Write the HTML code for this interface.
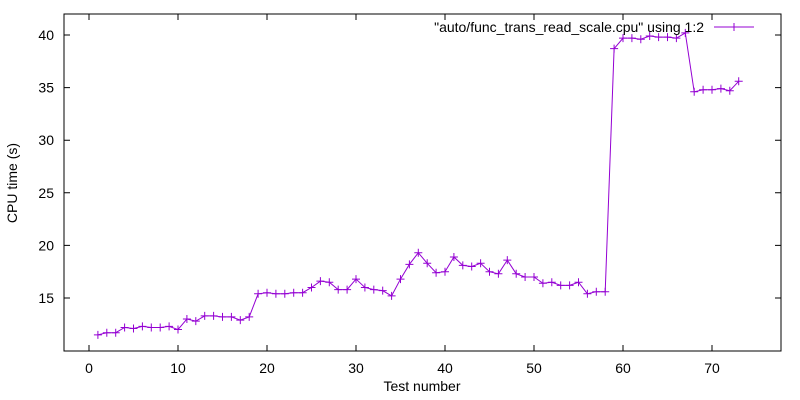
<!DOCTYPE html>
<html><head><meta charset="utf-8"><style>body{margin:0;background:#fff}svg{display:block;font-family:"Liberation Sans",sans-serif}</style></head>
<body>
<svg id="chart" width="800" height="400" viewBox="0 0 800 400"></svg>
<script>
const xTicks=[0,10,20,30,40,50,60,70];
const yTicks=[15,20,25,30,35,40];
const testNumbers=[];for(let i=1;i<=73;i++)testNumbers.push(i);
const cpuTimes=[11.5,11.7,11.7,12.2,12.1,12.3,12.2,12.2,12.3,12.0,13.0,12.8,13.3,13.3,13.2,13.2,12.9,13.2,15.4,15.5,15.4,15.4,15.5,15.5,16.0,16.6,16.5,15.8,15.8,16.8,16.0,15.8,15.7,15.2,16.8,18.2,19.3,18.3,17.4,17.5,18.9,18.1,18.0,18.3,17.5,17.3,18.6,17.3,17.0,17.0,16.4,16.5,16.2,16.2,16.5,15.4,15.6,15.6,38.7,39.7,39.7,39.6,39.9,39.8,39.8,39.7,40.2,34.6,34.8,34.8,34.9,34.7,35.6];
const seriesLabel='"auto/func_trans_read_scale.cpu" using 1:2';
const L=64,R=781,T=14,B=351;
const xs=v=>89+v*8.9;
const ys=v=>350.6-(v-10)*10.52;
const svg=document.getElementById('chart');
const NS='http://www.w3.org/2000/svg';
function mk(t,a,p){const e=document.createElementNS(NS,t);for(const k in a)e.setAttribute(k,a[k]);(p||svg).appendChild(e);return e;}
let e=mk('rect',{x:L,y:T,width:R-L,height:B-T,fill:'none',stroke:'#000','stroke-width':1});


xTicks.forEach(t=>{const x=xs(t);
 let l=mk('path',{d:`M${x} ${B}v-6M${x} ${T}v6`,stroke:'#000'});
 
 
 let tx=mk('text',{x:x,y:373,'text-anchor':'middle','font-size':14});tx.textContent=t;
 
 
});
yTicks.forEach(t=>{const y=ys(t);
 let l=mk('path',{d:`M${L} ${y}h6M${R} ${y}h-6`,stroke:'#000'});
 
 
 let tx=mk('text',{x:54,y:y+5,'text-anchor':'end','font-size':14});tx.textContent=t;
 
 
});
let xt=mk('text',{x:422,y:391,'text-anchor':'middle','font-size':14});xt.textContent='Test number';


let yt=mk('text',{x:17,y:183,'text-anchor':'middle','font-size':14,transform:'rotate(-90 17 183)'});yt.textContent='CPU time (s)';


const col='#9400d3';
let d=testNumbers.map((n,i)=>(i?'L':'M')+xs(n)+' '+ys(cpuTimes[i])).join('');
let ln=mk('path',{d:d,fill:'none',stroke:col,'stroke-width':1});


testNumbers.forEach((n,i)=>{const x=xs(n),y=ys(cpuTimes[i]);
 let p=mk('path',{d:`M${x-4} ${y}h8M${x} ${y-4}v8`,stroke:col,'stroke-width':1});
 
 
});
let lt=mk('text',{x:704,y:32,'text-anchor':'end','font-size':14});lt.textContent=seriesLabel;


let ll=mk('path',{d:'M714 27h40M734 23v8',stroke:col,'stroke-width':1});


</script>
</body></html>
